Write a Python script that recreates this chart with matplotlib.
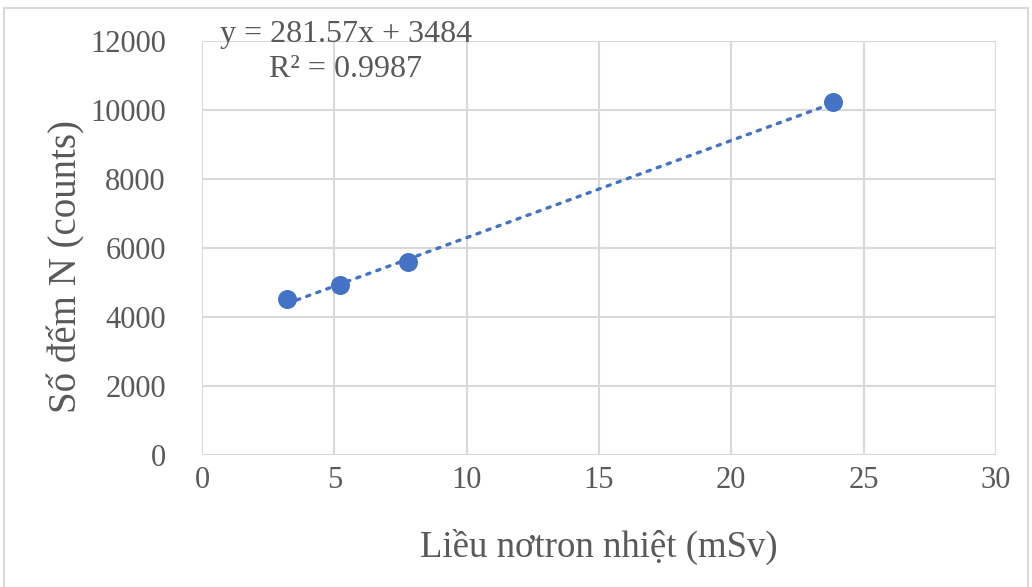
import matplotlib
matplotlib.use("Agg")
import matplotlib.pyplot as plt
import numpy as np
from matplotlib.patches import Rectangle

x_dose = [3.2, 5.2, 7.8, 23.85]
y_counts = [4520, 4930, 5590, 10230]
fit_slope = 281.57
fit_intercept = 3484
eq_text = "y = 281.57x + 3484"
r2_text = "R² = 0.9987"

plt.rcParams['font.family'] = ['Liberation Serif', 'DejaVu Serif']
txt = '#595959'

fig = plt.figure(figsize=(10.32, 5.87), dpi=100)
ax = fig.add_axes([0.1957, 0.2249, 0.7694, 0.7053])

fig.patches.append(Rectangle((0.004, -0.01), 0.992, 0.997, transform=fig.transFigure,
                             fill=False, edgecolor='#d9d9d9', lw=1.5))

xs = np.array([min(x_dose), max(x_dose)])
ax.plot(xs, fit_slope * xs + fit_intercept, linestyle=(0, (1, 2.2)), color='#4472c4', lw=2.4, dash_capstyle='round', zorder=2)
ax.scatter(x_dose, y_counts, s=160, color='#4472c4', zorder=3)

ax.set_xlim(0, 30)
ax.set_ylim(0, 12000)
ax.set_xticks(range(0, 31, 5))
ax.set_yticks(range(0, 12001, 2000))
ax.grid(True, color='#d9d9d9', lw=1.5)
ax.set_axisbelow(True)
for s in ax.spines.values():
    s.set_visible(False)
ax.tick_params(length=0, labelsize=22, colors=txt, pad=8)
ax.tick_params(axis='y', pad=26)
ax.set_xlabel('Liều nơtron nhiệt (mSv)', fontsize=26.5, color=txt, labelpad=24)
ax.set_ylabel('Số đếm N (counts)', fontsize=28, color=txt)
ax.yaxis.set_label_coords(-0.147, 0.455)

ax.text(0.181, 1.015, eq_text, transform=ax.transAxes, ha='center', va='center', fontsize=23, color=txt)
ax.text(0.181, 0.93, r2_text, transform=ax.transAxes, ha='center', va='center', fontsize=23, color=txt)

fig.savefig('out.png', dpi=100)
